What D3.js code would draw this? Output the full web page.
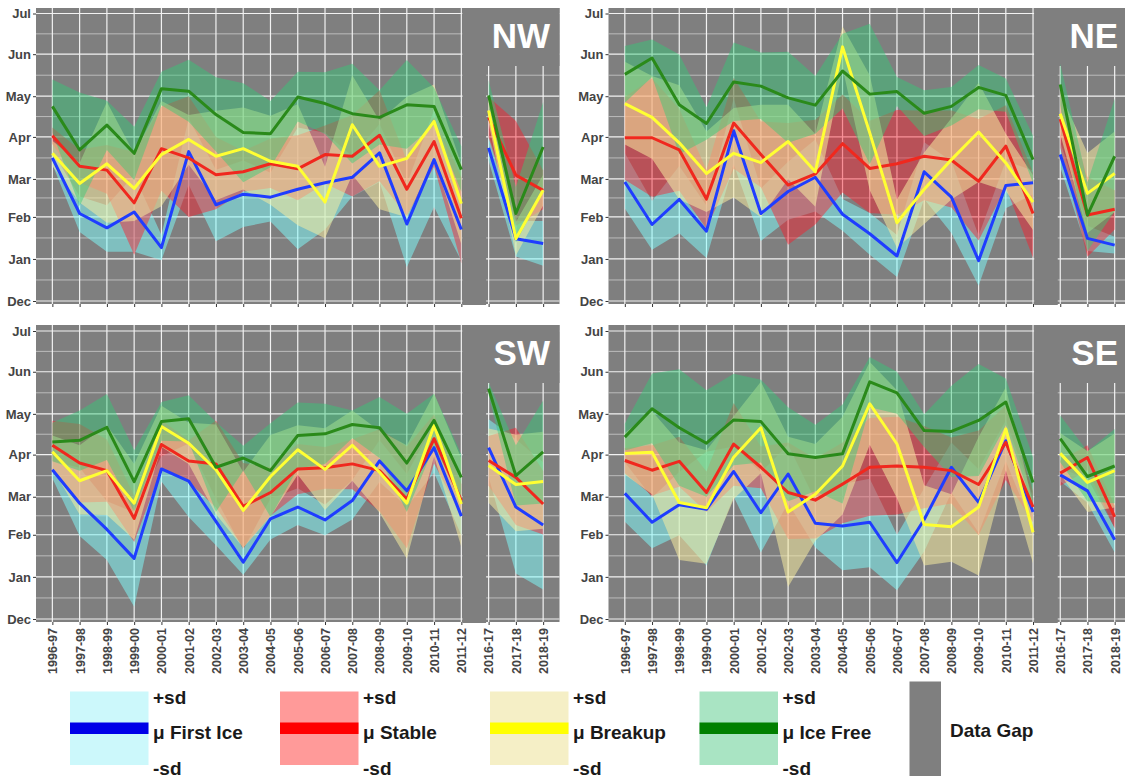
<!DOCTYPE html>
<html>
<head>
<meta charset="utf-8">
<script src="https://cdn.jsdelivr.net/npm/d3@7"></script>
<style>
  body { margin: 0; background: #fff; }
  svg text { font-family: "Liberation Sans", Arial, Helvetica, sans-serif; font-weight: bold; }
</style>
</head>
<body>
<svg id="chart" width="1125" height="778"></svg>
<script>
// x categories (data gap between 2011-12 and 2016-17)
var seasons = ["1996-97","1997-98","1998-99","1999-00","2000-01","2001-02","2002-03","2003-04",
  "2004-05","2005-06","2006-07","2007-08","2008-09","2009-10","2010-11","2011-12",
  "2016-17","2017-18","2018-19"];
var monthLabels = ["Dec","Jan","Feb","Mar","Apr","May","Jun","Jul"];
var seriesNames = ["First Ice","Stable","Breakup","Ice Free"];

// values are months after 1 Dec (0 = Dec, 1 = Jan ... 7 = Jul); *Sd = one standard deviation
var nwFirstIce   = [3.50,2.09,1.74,2.13,1.27,3.65,2.32,2.60,2.52,2.73,2.90,3.04,3.62,1.83,3.46,1.70,3.74,1.48,1.37];
var nwFirstIceSd = [0.15,0.45,0.57,0.96,0.30,0.80,0.90,0.84,0.63,1.50,1.20,0.50,0.70,1.03,1.20,0.75,0.30,0.42,0.53];
var nwStable     = [4.03,3.30,3.21,2.37,3.72,3.50,3.10,3.17,3.36,3.24,3.58,3.54,4.04,2.73,3.89,1.97,4.48,3.09,2.70];
var nwStableSd   = [0.20,0.40,0.60,1.27,1.03,1.50,0.90,0.50,0.60,0.80,0.70,1.00,1.10,0.70,0.60,1.07,0.50,1.30,0.50];
var nwBreakup    = [3.61,2.88,3.36,2.75,3.58,3.94,3.54,3.72,3.42,3.30,2.39,4.30,3.30,3.49,4.38,2.35,4.65,1.48,2.70];
var nwBreakupSd  = [0.30,0.50,1.50,0.85,1.30,0.60,1.10,1.00,1.10,1.50,0.90,1.20,1.10,1.50,0.90,1.00,0.30,0.40,0.40];
var nwIceFree    = [4.75,3.69,4.29,3.61,5.18,5.12,4.55,4.11,4.08,4.98,4.82,4.57,4.48,4.79,4.75,3.22,5.02,2.09,3.76];
var nwIceFreeSd  = [0.65,1.40,0.60,0.64,0.40,0.75,0.90,1.20,0.80,0.60,0.75,1.20,0.66,1.07,0.45,0.56,0.36,0.70,1.10];

var neFirstIce   = [2.92,1.82,2.46,1.66,4.15,2.09,2.67,3.04,2.07,1.60,1.07,3.17,2.52,0.96,2.83,2.90,3.58,1.49,1.33];
var neFirstIceSd = [0.70,0.60,0.85,0.64,0.80,0.66,0.74,0.90,0.40,0.50,0.50,0.70,0.90,0.60,0.60,0.30,0.30,0.30,0.20];
var neStable     = [3.98,3.98,3.69,2.47,4.34,3.58,2.84,3.12,3.84,3.25,3.36,3.54,3.45,2.94,3.78,2.09,4.44,2.05,2.20];
var neStableSd   = [1.00,1.45,1.00,0.75,1.10,0.80,1.50,1.30,1.20,1.15,1.30,1.10,1.20,1.50,1.00,1.06,0.70,1.00,0.50];
var neBreakup    = [4.82,4.48,3.86,3.13,3.61,3.39,3.89,3.17,6.18,4.10,1.86,2.73,3.46,4.12,3.38,2.39,4.57,2.62,3.13];
var neBreakupSd  = [1.00,1.00,1.40,1.00,1.10,1.40,0.90,0.90,0.50,1.40,0.60,0.90,1.00,1.20,0.70,0.70,0.50,1.00,1.00];
var neIceFree    = [5.52,5.91,4.79,4.33,5.34,5.24,4.96,4.78,5.60,5.05,5.11,4.58,4.75,5.21,5.02,3.46,5.28,2.05,3.54];
var neIceFreeSd  = [0.68,0.45,1.20,0.40,0.95,0.80,1.10,0.70,0.90,1.70,0.35,0.56,0.47,0.53,0.40,0.57,0.50,0.86,1.40];

var swFirstIce   = [3.64,2.83,2.14,1.44,3.66,3.37,2.35,1.35,2.42,2.73,2.39,2.90,3.85,3.14,4.17,2.49,4.17,2.73,2.26];
var swFirstIceSd = [0.20,0.86,0.74,1.15,0.30,0.90,0.60,0.30,0.53,0.47,0.40,0.50,0.50,0.40,0.60,0.50,0.70,1.65,1.56];
var swStable     = [4.23,3.80,3.62,2.43,4.25,3.85,3.78,2.75,3.10,3.66,3.69,3.78,3.62,2.94,4.39,2.90,3.86,3.46,2.81];
var swStableSd   = [0.60,0.95,0.75,0.60,0.60,0.50,1.06,1.05,0.60,0.60,0.50,0.60,1.00,1.26,0.60,0.40,0.60,1.20,0.80];
var swBreakup    = [4.07,3.38,3.62,2.83,4.69,4.28,3.64,2.64,3.48,4.12,3.65,4.23,3.58,2.83,4.72,2.81,3.74,3.29,3.36];
var swBreakupSd  = [0.40,0.85,1.10,0.95,0.50,0.50,1.10,0.95,1.00,0.60,1.00,0.85,1.00,1.40,0.76,1.10,0.90,1.20,1.20];
var swIceFree    = [4.31,4.35,4.67,3.36,4.81,4.88,3.70,3.92,3.62,4.47,4.51,4.74,4.66,3.80,4.84,3.46,5.60,3.50,4.07];
var swIceFreeSd  = [0.47,0.73,0.80,0.75,0.47,0.56,1.10,0.30,1.15,0.80,0.73,0.34,0.74,1.20,0.64,0.54,0.15,0.73,1.25];

var seFirstIce   = [3.08,2.33,2.79,2.67,3.60,2.58,3.54,2.30,2.23,2.33,1.34,2.40,3.70,2.85,4.34,2.60,3.52,3.14,1.88];
var seFirstIceSd = [0.74,0.65,0.80,1.40,0.60,1.00,0.70,0.60,1.07,1.10,0.66,0.80,0.60,0.80,0.50,0.40,0.15,0.30,0.30];
var seStable     = [3.86,3.63,3.84,3.10,4.26,3.70,3.10,2.91,3.30,3.70,3.73,3.70,3.62,3.29,4.30,2.73,3.56,3.93,2.47];
var seStableSd   = [0.30,0.60,0.60,0.50,1.00,0.50,1.20,1.00,1.00,1.20,1.20,1.00,0.80,1.30,0.90,0.40,0.30,0.30,0.30];
var seBreakup    = [4.03,4.06,2.85,2.71,3.94,4.66,2.60,3.06,3.73,5.24,4.26,2.27,2.21,2.73,4.63,2.06,4.03,3.34,3.62];
var seBreakupSd  = [0.50,1.00,1.45,1.40,1.00,1.10,1.84,1.20,1.20,1.00,1.30,1.00,0.85,1.70,1.00,0.74,0.50,0.74,0.90];
var seIceFree    = [4.43,5.12,4.66,4.28,4.85,4.81,4.02,3.93,4.02,5.76,5.50,4.59,4.57,4.84,5.28,3.34,4.39,3.48,3.73];
var seIceFreeSd  = [0.33,0.84,1.40,1.28,1.10,1.00,1.14,0.80,1.20,0.60,0.50,0.40,1.10,1.35,0.56,0.60,0.57,0.60,0.90];

var lineColors = ["#1f3dff", "#f0281e", "#ffff33", "#2a8a1a"];
var fillColors = ["#80ffff", "#ff1a2a", "#f5eba0", "#33cc77"];
var fillOpacity = [0.5, 0.45, 0.55, 0.45];
var keyColors = ["#ccf8fb", "#ff9a99", "#f5efc6", "#a9e4c3"];
var keyBands = ["#0000e8", "#ff0000", "#ffff00", "#008000"];

var panels = [
  {name: "NW", col: 0, row: 0, mean: [nwFirstIce, nwStable, nwBreakup, nwIceFree], sd: [nwFirstIceSd, nwStableSd, nwBreakupSd, nwIceFreeSd]},
  {name: "NE", col: 1, row: 0, mean: [neFirstIce, neStable, neBreakup, neIceFree], sd: [neFirstIceSd, neStableSd, neBreakupSd, neIceFreeSd]},
  {name: "SW", col: 0, row: 1, mean: [swFirstIce, swStable, swBreakup, swIceFree], sd: [swFirstIceSd, swStableSd, swBreakupSd, swIceFreeSd]},
  {name: "SE", col: 1, row: 1, mean: [seFirstIce, seStable, seBreakup, seIceFree], sd: [seFirstIceSd, seStableSd, seBreakupSd, seIceFreeSd]}
];

// panel geometry
var cols = [[36, 559.5], [608.5, 1131]];
var rows = [{top: 8, bottom: 304, dec: 301, jul: 13.5}, {top: 325, bottom: 622, dec: 619, jul: 331}];

// fractional month -> date in the Dec..Jul season
function monthToDate(m) {
  var i = Math.floor(m), f = m - i;
  var a = Date.UTC(2000, 11 + i, 1), b = Date.UTC(2000, 12 + i, 1);
  return new Date(a + f * (b - a));
}

var majorTicks = d3.range(8).map(monthToDate);
var minorTicks = d3.range(7).map(function (i) { return monthToDate(i + 0.5); });
var segments = [d3.range(0, 16), d3.range(16, 19)];

var svg = d3.select("#chart");
var defs = svg.append("defs");

panels.forEach(function (p, pi) {
  var c = cols[p.col], r = rows[p.row];
  var x = d3.scalePoint().domain(seasons).range(c).padding(0.6);
  var y = d3.scaleUtc().domain([monthToDate(0), monthToDate(7)]).range([r.dec, r.jul]);

  var g = svg.append("g");

  g.append("rect")
    .attr("x", c[0]).attr("y", r.top)
    .attr("width", c[1] - c[0]).attr("height", r.bottom - r.top)
    .attr("fill", "#7f7f7f");

  // grid
  g.selectAll(".minor").data(minorTicks).enter().append("line")
    .attr("x1", c[0]).attr("x2", c[1])
    .attr("y1", function (d) { return y(d); }).attr("y2", function (d) { return y(d); })
    .attr("stroke", "#e4e4e4").attr("stroke-width", 0.6);
  g.selectAll(".major").data(majorTicks).enter().append("line")
    .attr("x1", c[0]).attr("x2", c[1])
    .attr("y1", function (d) { return y(d); }).attr("y2", function (d) { return y(d); })
    .attr("stroke", "#f2f2f2").attr("stroke-width", 1.2);
  g.selectAll(".vgrid").data(seasons).enter().append("line")
    .attr("x1", function (d) { return x(d); }).attr("x2", function (d) { return x(d); })
    .attr("y1", r.top).attr("y2", r.bottom)
    .attr("stroke", "#f2f2f2").attr("stroke-width", 1.2);

  // data gap band and label box
  var gx0 = x(seasons[15]) + 1.2, gx1 = x(seasons[16]) - 2.5;
  g.append("rect").attr("x", gx0).attr("y", r.top)
    .attr("width", gx1 - gx0).attr("height", r.bottom - r.top + 1)
    .attr("fill", "#7f7f7f");
  g.append("rect").attr("x", gx0).attr("y", r.top)
    .attr("width", c[1] - gx0).attr("height", 58)
    .attr("fill", "#7f7f7f");

  defs.append("clipPath").attr("id", "clip" + pi).append("rect")
    .attr("x", c[0]).attr("y", r.top)
    .attr("width", c[1] - c[0]).attr("height", r.bottom - r.top);

  var plot = g.append("g").attr("clip-path", "url(#clip" + pi + ")");

  // ribbons: mean +/- sd
  p.mean.forEach(function (mean, si) {
    var sd = p.sd[si];
    var area = d3.area()
      .x(function (i) { return x(seasons[i]); })
      .y0(function (i) { return y(monthToDate(mean[i] - sd[i])); })
      .y1(function (i) { return y(monthToDate(mean[i] + sd[i])); });
    segments.forEach(function (seg) {
      plot.append("path").attr("d", area(seg))
        .attr("fill", fillColors[si]).attr("fill-opacity", fillOpacity[si]);
    });
  });

  // mean lines
  p.mean.forEach(function (mean, si) {
    var line = d3.line()
      .x(function (i) { return x(seasons[i]); })
      .y(function (i) { return y(monthToDate(mean[i])); });
    segments.forEach(function (seg) {
      plot.append("path").attr("d", line(seg))
        .attr("fill", "none").attr("stroke", lineColors[si])
        .attr("stroke-width", 3).attr("stroke-linejoin", "round");
    });
  });

  // axes
  var yAxis = g.append("g").attr("transform", "translate(" + c[0] + ",0)")
    .call(d3.axisLeft(y).tickValues(majorTicks)
      .tickFormat(function (d, i) { return monthLabels[i]; })
      .tickSize(3).tickPadding(2));
  yAxis.select(".domain").remove();
  yAxis.selectAll("line").attr("stroke", "#333");
  yAxis.selectAll("text").attr("fill", "#444").style("font-size", "13px");

  var xAxis = g.append("g").attr("transform", "translate(0," + r.bottom + ")")
    .call(d3.axisBottom(x).tickSize(3));
  xAxis.select(".domain").remove();
  xAxis.selectAll("line").attr("stroke", "#333");
  if (p.row === 1) {
    xAxis.selectAll("text")
      .attr("fill", "#444").style("font-size", "12.5px")
      .attr("transform", "rotate(-90)")
      .attr("text-anchor", "end")
      .attr("x", -6).attr("y", 0).attr("dy", "0.35em");
  } else {
    xAxis.selectAll("text").remove();
  }

  g.append("text")
    .attr("x", c[1] - (p.col === 0 ? 9.5 : 13)).attr("y", r.top + 40)
    .attr("text-anchor", "end")
    .attr("fill", "#ffffff")
    .style("font-size", "35px")
    .text(p.name);
});

// legend
var keyX = [70, 280, 490, 699.5];
var legend = svg.append("g");
seriesNames.forEach(function (name, i) {
  var lg = legend.append("g").attr("transform", "translate(" + keyX[i] + ",0)");
  lg.append("rect").attr("x", 0).attr("y", 691.5).attr("width", 78.5).attr("height", 73.5)
    .attr("fill", keyColors[i]);
  lg.append("rect").attr("x", 0).attr("y", 722.5).attr("width", 78.5).attr("height", 11.5)
    .attr("fill", keyBands[i]);
  var tx = 83;
  lg.append("text").attr("x", tx).attr("y", 697).attr("dy", "0.35em")
    .style("font-size", "19px").attr("fill", "#1a1a1a").text("+sd");
  lg.append("text").attr("x", tx).attr("y", 732).attr("dy", "0.35em")
    .style("font-size", "19px").attr("fill", "#1a1a1a").text("\u03bc " + name);
  lg.append("text").attr("x", tx).attr("y", 768.5).attr("dy", "0.35em")
    .style("font-size", "19px").attr("fill", "#1a1a1a").text("-sd");
});
legend.append("rect").attr("x", 909.5).attr("y", 681.5).attr("width", 31.5).attr("height", 94.5)
  .attr("fill", "#7f7f7f");
legend.append("text").attr("x", 950).attr("y", 730).attr("dy", "0.35em")
  .style("font-size", "19px").attr("fill", "#1a1a1a").text("Data Gap");
</script>
</body>
</html>
